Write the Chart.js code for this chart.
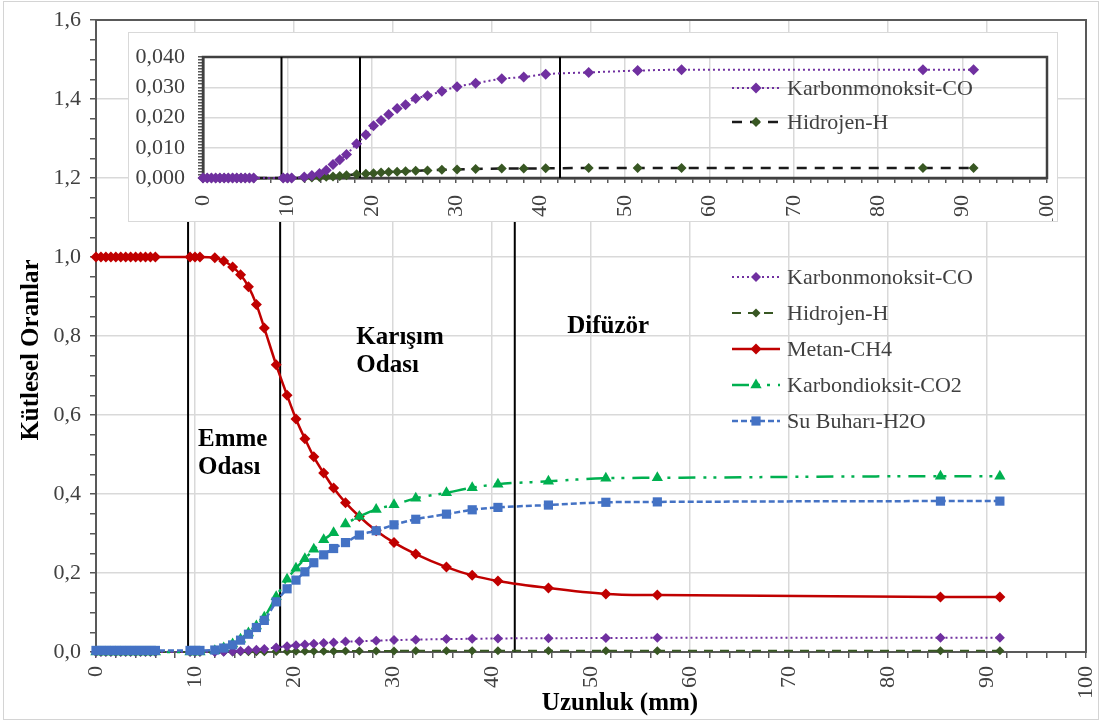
<!DOCTYPE html>
<html lang="tr">
<head>
<meta charset="UTF-8">
<title>Kütlesel Oranlar - Uzunluk</title>
<script src="https://cdn.jsdelivr.net/npm/chart.js@4"></script>
<style>
  html, body { margin: 0; padding: 0; background: #fff; }
  #wrap { position: relative; width: 1103px; height: 724px; overflow: hidden; }
  #frame { position: absolute; left: 3px; top: 1px; width: 1096px; height: 719px; border: 1px solid #d4d4d4; box-sizing: border-box; }
  #mainChart { position: absolute; left: 0; top: 0; }
  #insetBox { position: absolute; left: 128px; top: 32px; width: 930px; height: 190px; background: #fff; border: 1px solid #d9d9d9; box-sizing: border-box; }
  #insetChart { position: absolute; left: 0; top: 0; }
</style>
</head>
<body>
<div id="wrap">
  <div id="frame"></div>
  <canvas id="mainChart" width="1103" height="724"></canvas>
  <div id="insetBox"><canvas id="insetChart" width="928" height="188"></canvas></div>
</div>

<script>
// ---- data ----
const xMm = [0, 0.5, 1, 1.5, 2, 2.5, 3, 3.5, 4, 4.5, 5, 5.5, 6,
  9.5, 10, 10.5,
  12.0, 12.9, 13.8, 14.6, 15.4, 16.2, 17.0, 18.2,
  19.3, 20.2, 21.1, 22.0, 23.0, 24.0, 25.2, 26.6, 28.3, 30.1,
  32.3, 35.4, 38.0, 40.6, 45.7, 51.5, 56.7, 85.3, 91.3];

const ch4Frac = [1, 1, 1, 1, 1, 1, 1, 1, 1, 1, 1, 1, 1,
  1, 1, 1,
  0.998, 0.99, 0.975, 0.955, 0.925, 0.88, 0.82, 0.727,
  0.65, 0.59, 0.54, 0.494, 0.453, 0.415, 0.378, 0.343, 0.307, 0.277,
  0.248, 0.215, 0.194, 0.18, 0.162, 0.147, 0.144, 0.139, 0.139];

const co2Frac = [0, 0, 0, 0, 0, 0, 0, 0, 0, 0, 0, 0, 0,
  0, 0, 0,
  0.003, 0.01, 0.02, 0.032, 0.048, 0.066, 0.088, 0.14,
  0.184, 0.212, 0.236, 0.26, 0.284, 0.302, 0.324, 0.343, 0.361, 0.373,
  0.389, 0.403, 0.416, 0.425, 0.432, 0.44, 0.441, 0.445, 0.445];

const h2oFrac = [0.004, 0.004, 0.004, 0.004, 0.004, 0.004, 0.004, 0.004, 0.004, 0.004, 0.004, 0.004, 0.004,
  0.004, 0.004, 0.004,
  0.005, 0.01, 0.018, 0.03, 0.045, 0.062, 0.08, 0.127,
  0.16, 0.182, 0.203, 0.226, 0.246, 0.262, 0.277, 0.296, 0.307, 0.322,
  0.336, 0.349, 0.36, 0.366, 0.372, 0.379, 0.38, 0.382, 0.382];

const coFrac = [0, 0, 0, 0, 0, 0, 0, 0, 0, 0, 0, 0, 0,
  0, 0, 0,
  0.0003, 0.0008, 0.0015, 0.0026, 0.0045, 0.006, 0.0078, 0.0113,
  0.0143, 0.0173, 0.019, 0.021, 0.023, 0.0242, 0.0263, 0.0272, 0.0287, 0.0302,
  0.0313, 0.0328, 0.0334, 0.0343, 0.0349, 0.0355, 0.0358, 0.0358, 0.0358];

const hFrac = [0, 0, 0, 0, 0, 0, 0, 0, 0, 0, 0, 0, 0,
  0, 0, 0,
  0.0001, 0.0002, 0.0003, 0.0004, 0.0005, 0.0007, 0.0009, 0.0012,
  0.0014, 0.0016, 0.0018, 0.002, 0.0021, 0.0022, 0.0024, 0.0025, 0.0027, 0.0028,
  0.003, 0.0031, 0.0031, 0.0032, 0.0033, 0.0033, 0.0033, 0.0033, 0.0033];

// boundaries between Emme Odası / Karışım Odası / Difüzör (mm)
const zoneEdges = [9.3, 18.6, 42.3];

const seriesNames = ['Karbonmonoksit-CO', 'Hidrojen-H', 'Metan-CH4', 'Karbondioksit-CO2', 'Su Buharı-H2O'];
const xLabels = ['0', '10', '20', '30', '40', '50', '60', '70', '80', '90', '100'];
const mainYLabels = ['0,0', '0,2', '0,4', '0,6', '0,8', '1,0', '1,2', '1,4', '1,6'];
const insetYLabels = ['0,000', '0,010', '0,020', '0,030', '0,040'];

// ---- helpers ----
const SERIF = "'Liberation Serif', 'Times New Roman', serif";
const TICK_COLOR = '#404040';
const GRID = '#d9d9d9';

function pts(ys) {
  return xMm.map((x, i) => ({ x: x, y: ys[i] }));
}

function isStep(v, step) {
  const r = v / step;
  return Math.abs(r - Math.round(r)) < 1e-6;
}

function drawMarker(ctx, style, x, y, r) {
  ctx.beginPath();
  if (style === 'rectRot') {
    ctx.moveTo(x, y - r); ctx.lineTo(x + r, y); ctx.lineTo(x, y + r); ctx.lineTo(x - r, y);
  } else if (style === 'rect') {
    const s = r * Math.SQRT1_2;
    ctx.rect(x - s, y - s, 2 * s, 2 * s);
  } else if (style === 'triangle') {
    const h = r * 1.5;
    ctx.moveTo(x, y - r); ctx.lineTo(x + h * 0.58, y + r * 0.5); ctx.lineTo(x - h * 0.58, y + r * 0.5);
  }
  ctx.closePath();
  ctx.fill();
}

// legend drawn inside the plot, Excel-like
function boxLegend(rows, x0, x1, textX) {
  return {
    id: 'boxLegend',
    afterDraw(chart) {
      const ctx = chart.ctx;
      const items = chart.data.datasets.filter(d => d.label);
      ctx.save();
      items.forEach((ds, i) => {
        const y = rows[i];
        ctx.strokeStyle = ds.borderColor;
        ctx.lineWidth = ds.borderWidth;
        ctx.setLineDash(ds.borderDash || []);
        ctx.beginPath();
        ctx.moveTo(x0, y); ctx.lineTo(x1, y);
        ctx.stroke();
        ctx.setLineDash([]);
        ctx.fillStyle = ds.pointBackgroundColor;
        drawMarker(ctx, ds.pointStyle, (x0 + x1) / 2, y, ds.pointRadius);
        ctx.fillStyle = TICK_COLOR;
        ctx.font = '22px ' + SERIF;
        ctx.textBaseline = 'middle';
        ctx.textAlign = 'left';
        ctx.fillText(ds.label, textX, y + 1);
      });
      ctx.restore();
    }
  };
}

function plotFrame(color, width) {
  return {
    id: 'plotFrame',
    beforeDatasetsDraw(chart) {
      const a = chart.chartArea, ctx = chart.ctx;
      ctx.save();
      ctx.strokeStyle = color;
      ctx.lineWidth = width;
      ctx.strokeRect(a.left, a.top, a.right - a.left, a.bottom - a.top);
      ctx.restore();
    }
  };
}

const mainText = {
  id: 'mainText',
  afterDraw(chart) {
    const ctx = chart.ctx, sx = chart.scales.x, sy = chart.scales.y;
    ctx.save();
    ctx.fillStyle = '#000';
    ctx.font = 'bold 25px ' + SERIF;
    ctx.textBaseline = 'middle';
    ctx.textAlign = 'left';
    ctx.fillText('Emme', sx.getPixelForValue(10.3), sy.getPixelForValue(0.537));
    ctx.fillText('Odası', sx.getPixelForValue(10.3), sy.getPixelForValue(0.466));
    ctx.fillText('Karışım', sx.getPixelForValue(26.3), sy.getPixelForValue(0.797));
    ctx.fillText('Odası', sx.getPixelForValue(26.3), sy.getPixelForValue(0.724));
    ctx.fillText('Difüzör', sx.getPixelForValue(47.6), sy.getPixelForValue(0.823));
    // axis titles
    ctx.textAlign = 'center';
    ctx.fillText('Uzunluk (mm)', 620, 704);
    ctx.translate(32, 350);
    ctx.rotate(-Math.PI / 2);
    ctx.fillText('Kütlesel Oranlar', 0, 0);
    ctx.restore();
  }
};

function zoneLines(top) {
  return zoneEdges.map(x => ({
    data: [{ x: x, y: 0 }, { x: x, y: top }],
    borderColor: '#000', borderWidth: 2, pointRadius: 0, order: 9, clip: false
  }));
}

const tickFont = { family: SERIF, size: 22, lineHeight: 1 };

function fixX(h) {
  return s => { s.height = h; s.paddingLeft = 0; s.paddingRight = 0; };
}

// ---- main chart ----
new Chart(document.getElementById('mainChart'), {
  type: 'line',
  data: {
    datasets: [
      { label: seriesNames[0], data: pts(coFrac), borderColor: '#7030a0', pointBackgroundColor: '#7030a0',
        borderWidth: 2, borderDash: [2, 3], pointStyle: 'rectRot', pointRadius: 5, order: 4 },
      { label: seriesNames[1], data: pts(hFrac), borderColor: '#385723', pointBackgroundColor: '#385723',
        borderWidth: 2, borderDash: [9, 7], pointStyle: 'rectRot', pointRadius: 4.5, order: 5 },
      { label: seriesNames[2], data: pts(ch4Frac), borderColor: '#c00000', pointBackgroundColor: '#c00000',
        borderWidth: 2.5, pointStyle: 'rectRot', pointRadius: 5.5, order: 3 },
      { label: seriesNames[3], data: pts(co2Frac), borderColor: '#00b050', pointBackgroundColor: '#00b050',
        borderWidth: 2.5, borderDash: [17, 8, 3, 7, 3, 8], pointStyle: 'triangle', pointRadius: 6.5, order: 2 },
      { label: seriesNames[4], data: pts(h2oFrac), borderColor: '#4472c4', pointBackgroundColor: '#4472c4',
        borderWidth: 2.5, borderDash: [6, 3], pointStyle: 'rect', pointRadius: 6.5, order: 1 },
      ...zoneLines(1.1)
    ].map(d => Object.assign({ pointBorderWidth: 0, cubicInterpolationMode: 'monotone', clip: false }, d))
  },
  options: {
    responsive: false,
    animation: false,
    events: [],
    layout: { padding: { left: 0, top: 20, right: 17, bottom: 0 } },
    plugins: { legend: { display: false }, tooltip: { enabled: false } },
    scales: {
      x: {
        type: 'linear', min: 0, max: 100,
        ticks: {
          stepSize: 2, autoSkip: false, maxRotation: 90, minRotation: 90,
          font: tickFont, color: TICK_COLOR, padding: 8,
          callback: v => isStep(v, 10) ? xLabels[Math.round(v / 10)] : ''
        },
        grid: {
          color: c => (c.tick && isStep(c.tick.value, 10)) ? GRID : 'rgba(0,0,0,0)',
          tickColor: '#595959', tickLength: 6, lineWidth: 1.5
        },
        border: { color: '#595959', width: 2 },
        afterFit: fixX(72)
      },
      y: {
        type: 'linear', min: 0, max: 1.6,
        ticks: {
          stepSize: 0.05, autoSkip: false, font: tickFont, color: TICK_COLOR, padding: 9,
          callback: v => isStep(v, 0.2) ? mainYLabels[Math.round(v / 0.2)] : ''
        },
        grid: {
          color: c => (c.tick && isStep(c.tick.value, 0.2)) ? GRID : 'rgba(0,0,0,0)',
          tickColor: '#595959', tickLength: 6, lineWidth: 1.5
        },
        border: { color: '#595959', width: 2 },
        afterFit: s => { s.width = 96; }
      }
    }
  },
  plugins: [plotFrame('#595959', 2), mainText, boxLegend([277, 313, 349, 385, 421], 732, 780, 787)]
});

// ---- inset chart (CO and H zoomed) ----
new Chart(document.getElementById('insetChart'), {
  type: 'line',
  data: {
    datasets: [
      { label: seriesNames[0], data: pts(coFrac), borderColor: '#7030a0', pointBackgroundColor: '#7030a0',
        borderWidth: 2, borderDash: [2, 3], pointStyle: 'rectRot', pointRadius: 5.5, order: 1 },
      { label: seriesNames[1], data: pts(hFrac), borderColor: '#1a1a1a', pointBackgroundColor: '#385723',
        borderWidth: 2.5, borderDash: [10, 8], pointStyle: 'rectRot', pointRadius: 5, order: 2 },
      ...zoneLines(0.04)
    ].map(d => Object.assign({ pointBorderWidth: 0, cubicInterpolationMode: 'monotone', clip: false }, d))
  },
  options: {
    responsive: false,
    animation: false,
    events: [],
    layout: { padding: { left: 0, top: 11, right: 10, bottom: 0 } },
    plugins: { legend: { display: false }, tooltip: { enabled: false } },
    scales: {
      x: {
        type: 'linear', min: 0, max: 100,
        ticks: {
          stepSize: 2, autoSkip: false, maxRotation: 90, minRotation: 90,
          font: tickFont, color: TICK_COLOR, padding: 12,
          callback: v => isStep(v, 10) ? xLabels[Math.round(v / 10)] : ''
        },
        grid: {
          color: c => (c.tick && isStep(c.tick.value, 10)) ? GRID : 'rgba(0,0,0,0)',
          tickColor: '#595959', tickLength: 5, lineWidth: 1.5
        },
        border: { color: '#404040', width: 2.5 },
        afterFit: fixX(43)
      },
      y: {
        type: 'linear', min: 0, max: 0.04,
        ticks: {
          stepSize: 0.001, autoSkip: false, font: tickFont, color: TICK_COLOR, padding: 13,
          callback: v => isStep(v, 0.01) ? insetYLabels[Math.round(v / 0.01)] : ''
        },
        grid: {
          color: c => (c.tick && isStep(c.tick.value, 0.01)) ? GRID : 'rgba(0,0,0,0)',
          tickColor: '#595959', tickLength: 5, lineWidth: 1.5
        },
        border: { color: '#404040', width: 2.5 },
        afterFit: s => { s.width = 74; }
      }
    }
  },
  plugins: [plotFrame('#404040', 2.5), boxLegend([55, 89], 603, 651, 658)]
});
</script>
</body>
</html>
